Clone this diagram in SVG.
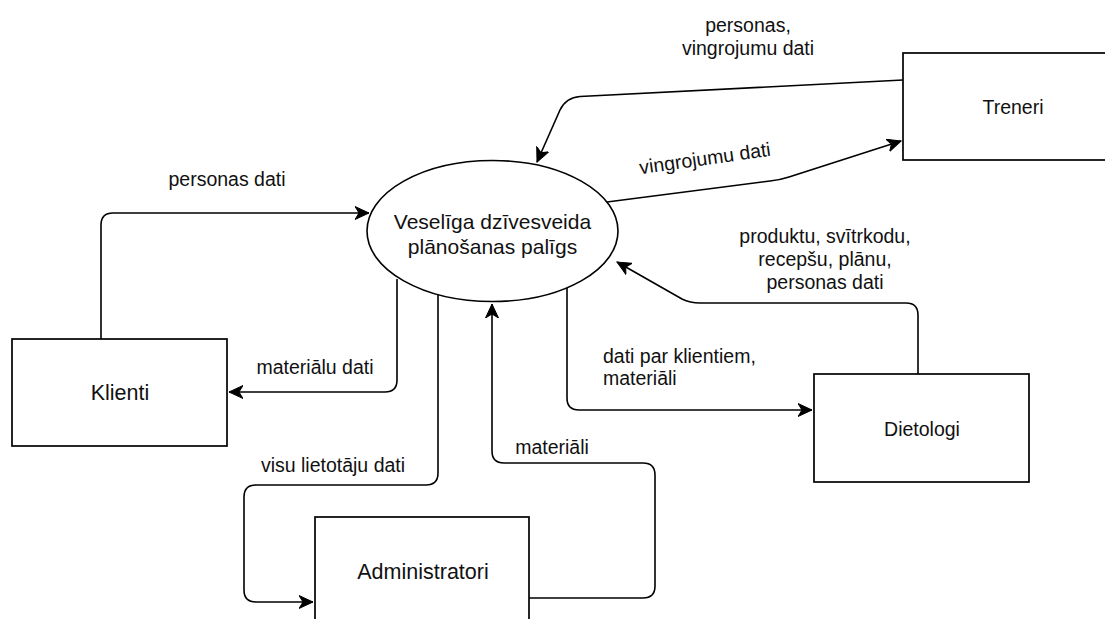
<svg xmlns="http://www.w3.org/2000/svg" width="1105" height="619" viewBox="0 0 1105 619">
  <defs>
    <marker id="arr" markerUnits="userSpaceOnUse" markerWidth="16" markerHeight="14" viewBox="-14 -7 16 14" refX="0" refY="0" orient="auto">
      <path d="M0,0 L-14,-6.5 L-10,0 L-14,6.5 Z" fill="#000" stroke="#000" stroke-width="1" stroke-linejoin="miter"/>
    </marker>
  </defs>
  <style>
    .box { fill: #fff; stroke: #000; stroke-width: 1.7; }
    .edge { fill: none; stroke: #000; stroke-width: 1.6; marker-end: url(#arr); }
    text { font-family: "Liberation Sans", Arial, sans-serif; fill: #111; }
    .lbl { font-size: 19.5px; }
    .c { text-anchor: middle; }
  </style>
  <rect width="1105" height="619" fill="#fff"/>

  <g id="connectors">
    <!-- Klienti -> process -->
    <path class="edge" d="M101,339 L101,225 Q101,213 113,213 L369,213"/>
    <!-- process -> Klienti -->
    <path class="edge" d="M397,279 L397,380 Q397,392 385,392 L229,392"/>
    <!-- process -> Administratori -->
    <path class="edge" d="M438,295 L438,473 Q438,485 426,485 L256,485 Q244,485 244,497 L244,590 Q244,602 256,602 L313,602"/>
    <!-- Administratori -> process -->
    <path class="edge" d="M529,598 L643,598 Q655,598 655,586 L655,475 Q655,463 643,463 L504,463 Q492,463 492,451 L492,304"/>
    <!-- process -> Dietologi -->
    <path class="edge" d="M567,288 L567,398 Q567,410 579,410 L812,410"/>
    <!-- Dietologi -> process -->
    <path class="edge" d="M918,374 L918,315 Q918,303 906,303 L700,303 Q690,303 682,299 L617,262"/>
    <!-- Treneri -> process -->
    <path class="edge" d="M903,80 L580,96.5 Q566,97.5 560,110 L537,162"/>
    <!-- process -> Treneri -->
    <path class="edge" d="M607,202 L770,181 Q780,180 789,177 L901,141"/>

    <text class="lbl c" x="227" y="186">personas dati</text>
    <text class="lbl c" x="315" y="374">materiālu dati</text>
    <text class="lbl c" x="333" y="472">visu lietotāju dati</text>
    <text class="lbl c" x="552" y="454">materiāli</text>
    <text class="lbl" x="603" y="363">dati par klientiem,</text>
    <text class="lbl" x="603" y="385">materiāli</text>
    <text class="lbl c" x="825" y="243">produktu, svītrkodu,</text>
    <text class="lbl c" x="825" y="266">recepšu, plānu,</text>
    <text class="lbl c" x="825" y="289">personas dati</text>
    <text class="lbl c" x="748" y="32">personas,</text>
    <text class="lbl c" x="748" y="55">vingrojumu dati</text>
    <text class="lbl c" transform="translate(705,159) rotate(-8)" x="0" y="6">vingrojumu dati</text>
  </g>

  <g id="process">
    <ellipse cx="492.5" cy="231" rx="125.5" ry="70.5" fill="#fff" stroke="#000" stroke-width="1.6"/>
    <text class="c" x="492.5" y="229" font-size="21">Veselīga dzīvesveida</text>
    <text class="c" x="492.5" y="254" font-size="21">plānošanas palīgs</text>
  </g>

  <g id="klienti">
    <rect class="box" x="12" y="339" width="215" height="107"/>
    <text class="c" x="120" y="400" font-size="21.5">Klienti</text>
  </g>

  <g id="treneri">
    <rect class="box" x="903" y="53" width="215" height="107"/>
    <text class="c" x="1013" y="114" font-size="19.5">Treneri</text>
  </g>

  <g id="dietologi">
    <rect class="box" x="814" y="374" width="215" height="108"/>
    <text class="c" x="922" y="436" font-size="19.5">Dietologi</text>
  </g>

  <g id="administratori">
    <rect class="box" x="315" y="517" width="214" height="108"/>
    <text class="c" x="423" y="579" font-size="21.5">Administratori</text>
  </g>
</svg>
